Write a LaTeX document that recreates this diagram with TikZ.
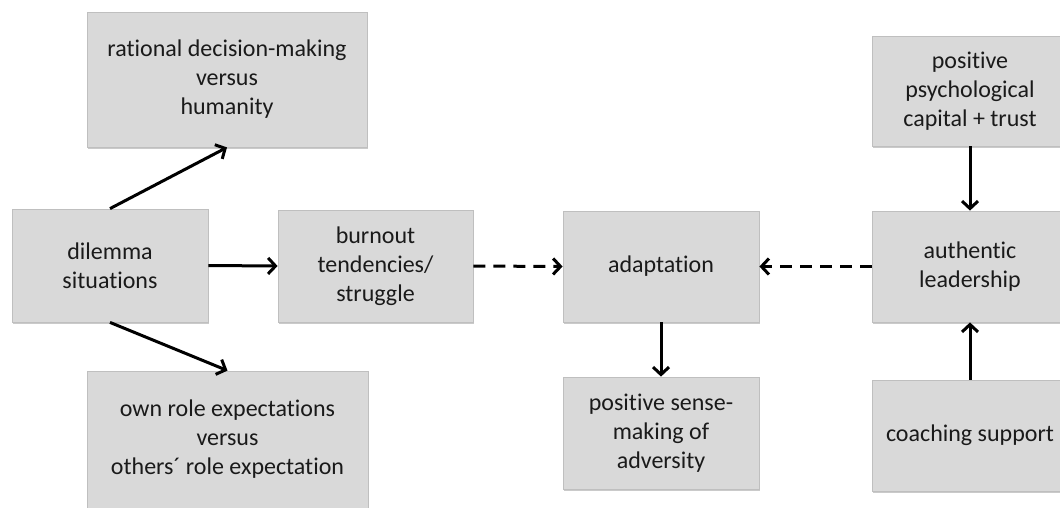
\documentclass[tikz,border=0pt]{standalone}
\usepackage{fontspec}
\setmainfont{Carlito}[Ligatures=NoCommon]
\usetikzlibrary{arrows.meta,shadows}
\definecolor{boxfill}{HTML}{D9D9D9}
\definecolor{boxline}{HTML}{BFBFBF}
\definecolor{inktext}{HTML}{1A1A1A}
\begin{document}
\begin{tikzpicture}[x=1pt,y=-1pt,
  box/.style={rectangle, draw=boxline, line width=0.8pt, fill=boxfill,
    align=center, text=inktext, inner sep=0pt,
    font=\fontsize{24}{29}\selectfont,
    drop shadow={shadow xshift=1.2pt, shadow yshift=-1.8pt, opacity=0.35, fill=black!60}},
  link/.style={line width=3pt, -{Straight Barb[length=7.5pt,width=16pt]}},
  dashlink/.style={link, dash pattern=on 12pt off 8pt}
]
\useasboundingbox (0,0) rectangle (1060,507);

% left column: the dilemma and its two tensions
\node[box, minimum width=280pt, minimum height=135pt] (rat) at (227,79.5)
  {rational decision-making\\versus\\humanity};
\node[box, minimum width=196pt, minimum height=113pt] (dil) at (110,265.5)
  {dilemma\\situations};
\node[box, minimum width=281pt, minimum height=137pt] (own) at (227.5,439.5)
  {own role expectations\\versus\\others´ role expectation};

% middle row
\node[box, minimum width=195pt, minimum height=112pt] (burn) at (375.5,266)
  {burnout\\tendencies/\\struggle};
\node[box, minimum width=196pt, minimum height=111pt] (adapt) at (661,266.5)
  {adaptation};
\node[box, minimum width=196pt, minimum height=112pt] (sense) at (661,433)
  {positive sense-\\making of\\adversity};

% right column: leadership and its antecedents
\node[box, minimum width=196pt, minimum height=110pt] (psych) at (970,91)
  {positive\\psychological\\capital + trust};
\node[box, minimum width=196pt, minimum height=111pt] (auth) at (970,266.5)
  {authentic\\leadership};
\node[box, minimum width=196pt, minimum height=111pt] (coach) at (970,435.5)
  {coaching support};

% connectors
\draw[link] (dil.north) -- (rat.south);
\draw[link] (dil.south) -- (own.north);
\draw[link] (dil.east) -- (burn.west);
\draw[dashlink] (burn.east) -- (adapt.west);
\draw[dashlink] (auth.west) -- (adapt.east);
\draw[link] (adapt.south) -- (sense.north);
\draw[link] (psych.south) -- (auth.north);
\draw[link] (coach.north) -- (auth.south);
\end{tikzpicture}
\end{document}
